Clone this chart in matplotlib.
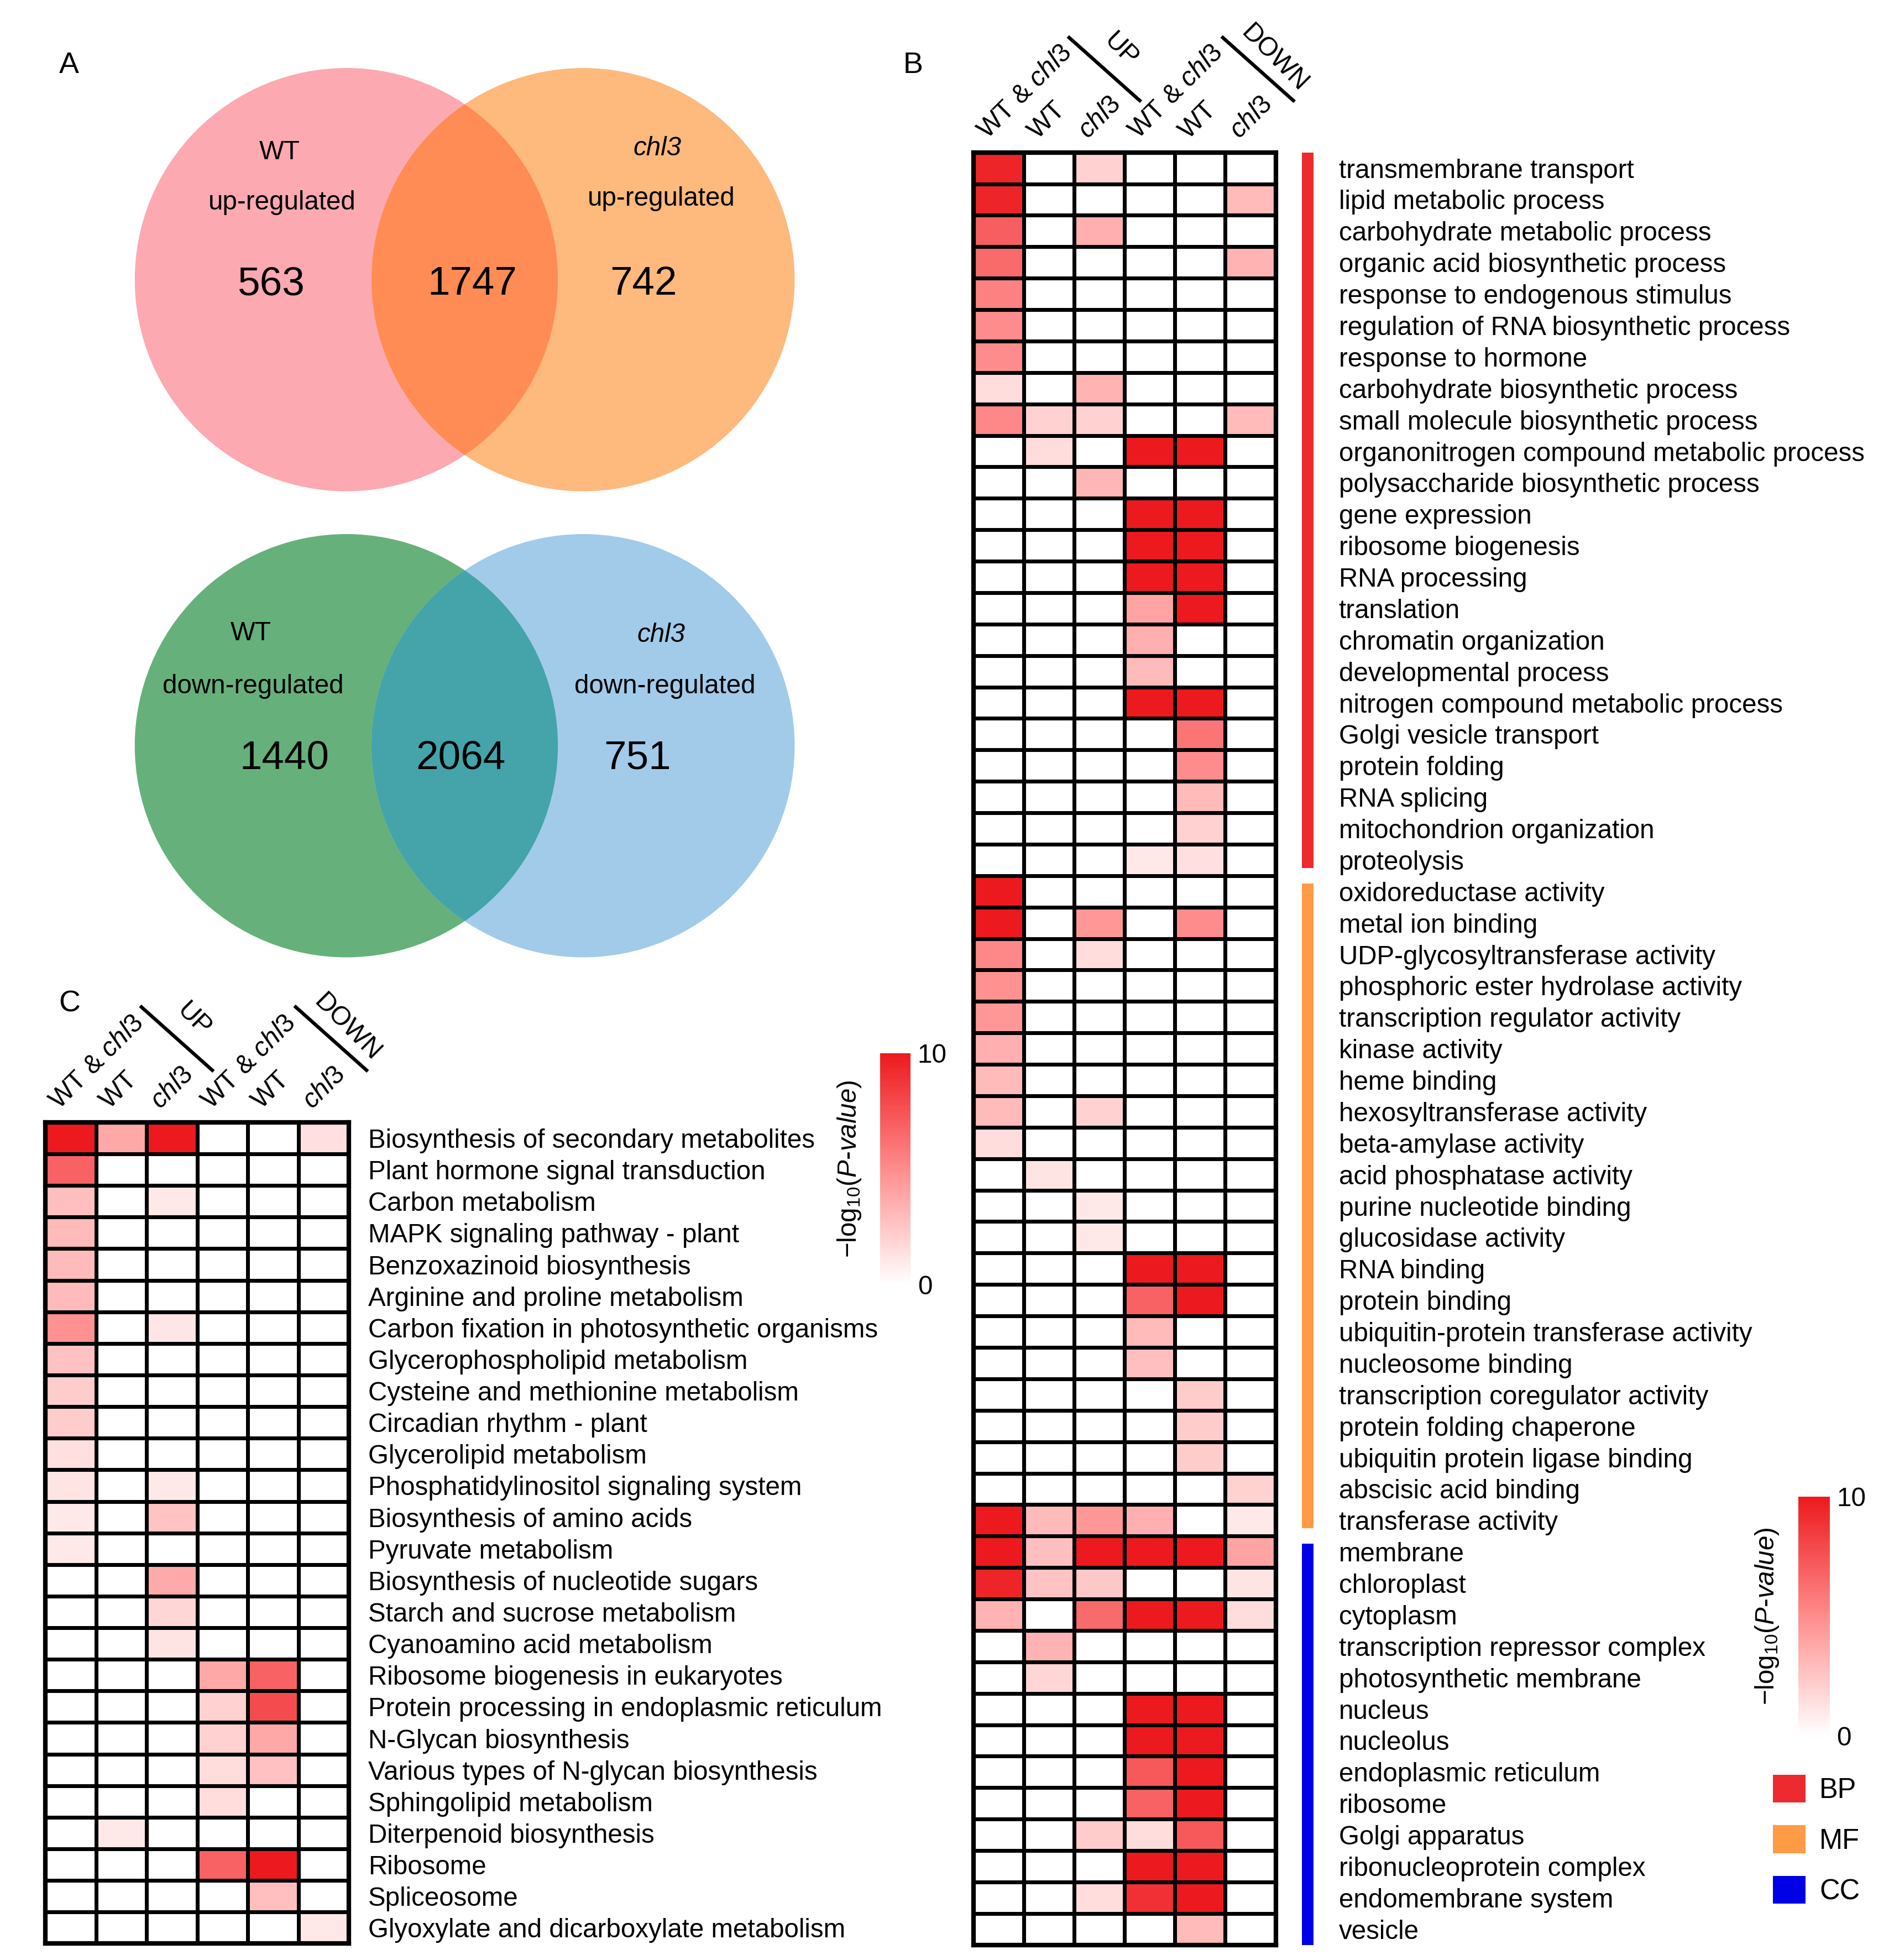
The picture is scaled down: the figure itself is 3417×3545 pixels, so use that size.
import numpy as np
import matplotlib
matplotlib.use("Agg")
import matplotlib.pyplot as plt
from matplotlib.colors import LinearSegmentedColormap, Normalize
from matplotlib.cm import ScalarMappable
from matplotlib.patches import Circle, Patch

plt.rcParams['font.family'] = ['Liberation Sans', 'DejaVu Sans']
plt.rcParams['mathtext.fontset'] = 'custom'
plt.rcParams['mathtext.rm'] = 'Liberation Sans'
plt.rcParams['mathtext.it'] = 'Liberation Sans:italic'
plt.rcParams['mathtext.bf'] = 'Liberation Sans:bold'

# ---- data ----
# Venn counts: [WT only, both, chl3 only]
up_counts = [563, 1747, 742]
down_counts = [1440, 2064, 751]

col_labels = ['WT & chl3', 'WT', 'chl3', 'WT & chl3', 'WT', 'chl3']

bp_terms = [
    'transmembrane transport', 'lipid metabolic process', 'carbohydrate metabolic process',
    'organic acid biosynthetic process', 'response to endogenous stimulus',
    'regulation of RNA biosynthetic process', 'response to hormone',
    'carbohydrate biosynthetic process', 'small molecule biosynthetic process',
    'organonitrogen compound metabolic process', 'polysaccharide biosynthetic process',
    'gene expression', 'ribosome biogenesis', 'RNA processing', 'translation',
    'chromatin organization', 'developmental process', 'nitrogen compound metabolic process',
    'Golgi vesicle transport', 'protein folding', 'RNA splicing',
    'mitochondrion organization', 'proteolysis',
]
bp_values = [
    [9.5, 0, 2, 0, 0, 0], [9.5, 0, 0, 0, 0, 3], [7, 0, 3.5, 0, 0, 0],
    [6.5, 0, 0, 0, 0, 3.3], [5.5, 0, 0, 0, 0, 0], [5, 0, 0, 0, 0, 0],
    [5, 0, 0, 0, 0, 0], [1.5, 0, 3.3, 0, 0, 0], [5.2, 2, 2, 0, 0, 3],
    [0, 1.5, 0, 10, 10, 0], [0, 0, 3.2, 0, 0, 0], [0, 0, 0, 10, 10, 0],
    [0, 0, 0, 10, 10, 0], [0, 0, 0, 10, 10, 0], [0, 0, 0, 4, 10, 0],
    [0, 0, 0, 3.5, 0, 0], [0, 0, 0, 3, 0, 0], [0, 0, 0, 10, 10, 0],
    [0, 0, 0, 0, 6, 0], [0, 0, 0, 0, 5, 0], [0, 0, 0, 0, 3, 0],
    [0, 0, 0, 0, 2, 0], [0, 0, 0, 1, 1.4, 0],
]

mf_terms = [
    'oxidoreductase activity', 'metal ion binding', 'UDP-glycosyltransferase activity',
    'phosphoric ester hydrolase activity', 'transcription regulator activity',
    'kinase activity', 'heme binding', 'hexosyltransferase activity',
    'beta-amylase activity', 'acid phosphatase activity', 'purine nucleotide binding',
    'glucosidase activity', 'RNA binding', 'protein binding',
    'ubiquitin-protein transferase activity', 'nucleosome binding',
    'transcription coregulator activity', 'protein folding chaperone',
    'ubiquitin protein ligase binding', 'abscisic acid binding', 'transferase activity',
]
mf_values = [
    [10, 0, 0, 0, 0, 0], [10, 0, 4.5, 0, 5, 0], [5.2, 0, 1.5, 0, 0, 0],
    [4.8, 0, 0, 0, 0, 0], [4.5, 0, 0, 0, 0, 0], [3.5, 0, 0, 0, 0, 0],
    [3, 0, 0, 0, 0, 0], [3, 0, 2, 0, 0, 0], [1.5, 0, 0, 0, 0, 0],
    [0, 1.2, 0, 0, 0, 0], [0, 0, 1, 0, 0, 0], [0, 0, 1, 0, 0, 0],
    [0, 0, 0, 10, 10, 0], [0, 0, 0, 6.8, 10, 0], [0, 0, 0, 3, 0, 0],
    [0, 0, 0, 2.8, 0, 0], [0, 0, 0, 0, 2.2, 0], [0, 0, 0, 0, 2.2, 0],
    [0, 0, 0, 0, 2.2, 0], [0, 0, 0, 0, 0, 2], [10, 3, 4.5, 3.5, 0, 1],
]

cc_terms = [
    'membrane', 'chloroplast', 'cytoplasm', 'transcription repressor complex',
    'photosynthetic membrane', 'nucleus', 'nucleolus', 'endoplasmic reticulum',
    'ribosome', 'Golgi apparatus', 'ribonucleoprotein complex',
    'endomembrane system', 'vesicle',
]
cc_values = [
    [10, 2.8, 10, 10, 10, 4], [9.5, 2.6, 2.4, 0, 0, 1.2], [3.3, 0, 6.5, 10, 10, 1.5],
    [0, 3.3, 0, 0, 0, 0], [0, 1.8, 0, 0, 0, 0], [0, 0, 0, 10, 10, 0],
    [0, 0, 0, 10, 10, 0], [0, 0, 0, 7.2, 10, 0], [0, 0, 0, 6.8, 10, 0],
    [0, 0, 2.2, 1.5, 7.2, 0], [0, 0, 0, 10, 10, 0], [0, 0, 1.5, 9, 10, 0],
    [0, 0, 0, 0, 3, 0],
]

kegg_terms = [
    'Biosynthesis of secondary metabolites', 'Plant hormone signal transduction',
    'Carbon metabolism', 'MAPK signaling pathway - plant', 'Benzoxazinoid biosynthesis',
    'Arginine and proline metabolism', 'Carbon fixation in photosynthetic organisms',
    'Glycerophospholipid metabolism', 'Cysteine and methionine metabolism',
    'Circadian rhythm - plant', 'Glycerolipid metabolism',
    'Phosphatidylinositol signaling system', 'Biosynthesis of amino acids',
    'Pyruvate metabolism', 'Biosynthesis of nucleotide sugars',
    'Starch and sucrose metabolism', 'Cyanoamino acid metabolism',
    'Ribosome biogenesis in eukaryotes', 'Protein processing in endoplasmic reticulum',
    'N-Glycan biosynthesis', 'Various types of N-glycan biosynthesis',
    'Sphingolipid metabolism', 'Diterpenoid biosynthesis', 'Ribosome', 'Spliceosome',
    'Glyoxylate and dicarboxylate metabolism',
]
kegg_values = [
    [10, 3.8, 10, 0, 0, 1.4], [6.8, 0, 0, 0, 0, 0], [2.8, 0, 1, 0, 0, 0],
    [3, 0, 0, 0, 0, 0], [3, 0, 0, 0, 0, 0], [3, 0, 0, 0, 0, 0],
    [4.8, 0, 1.1, 0, 0, 0], [2.7, 0, 0, 0, 0, 0], [2.2, 0, 0, 0, 0, 0],
    [2.2, 0, 0, 0, 0, 0], [1.4, 0, 0, 0, 0, 0], [1.2, 0, 1, 0, 0, 0],
    [1, 0, 2.6, 0, 0, 0], [1, 0, 0, 0, 0, 0], [0, 0, 3.7, 0, 0, 0],
    [0, 0, 1.8, 0, 0, 0], [0, 0, 1.2, 0, 0, 0], [0, 0, 0, 3.8, 6.8, 0],
    [0, 0, 0, 2, 7.8, 0], [0, 0, 0, 2, 3.8, 0], [0, 0, 0, 1.5, 2.7, 0],
    [0, 0, 0, 1.5, 0, 0], [0, 1, 0, 0, 0, 0], [0, 0, 0, 6.8, 10, 0],
    [0, 0, 0, 0, 2.8, 0], [0, 0, 0, 0, 0, 1],
]

category_names = ['BP', 'MF', 'CC']
category_colors = ['#EC2A30', '#FF9A45', '#0000E6']

# ---- figure, layout in a 1500 x 1556 "page" grid ----
W, H = 1500.0, 1556.0
fig = plt.figure(figsize=(3417 / 228, 3545 / 228), dpi=228)
cmap = LinearSegmentedColormap.from_list('wr', ['#FFFFFF', '#FF8C8C', '#EC1A1E'])
norm = Normalize(0, 10)
LBL = 15


def rect(x0, y0, x1, y1):
    return [x0 / W, 1 - y1 / H, (x1 - x0) / W, (y1 - y0) / H]


page = fig.add_axes([0, 0, 1, 1])
page.set_xlim(0, W)
page.set_ylim(H, 0)
page.axis('off')


def draw_venn(ax, cy, counts, colors, names, kind):
    left = Circle((275, cy), 168, fc=colors[0], ec='none')
    right = Circle((463, cy), 168, fc=colors[1], ec='none')
    ax.add_patch(left)
    ax.add_patch(right)
    both = Circle((463, cy), 168, fc=colors[2], ec='none')
    ax.add_patch(both)
    both.set_clip_path(left)
    ax.text(names[0][0], cy - 101 if kind == 'up' else cy - 89, 'WT', fontsize=LBL,
            ha='center', va='center')
    ax.text(names[0][1], cy - 61 if kind == 'up' else cy - 47, f'{kind}-regulated',
            fontsize=LBL, ha='center', va='center')
    ax.text(names[1][0], cy - 104 if kind == 'up' else cy - 88, 'chl3', fontsize=LBL,
            style='italic', ha='center', va='center')
    ax.text(names[1][1], cy - 64 if kind == 'up' else cy - 47, f'{kind}-regulated',
            fontsize=LBL, ha='center', va='center')
    for x, n in zip(names[2], counts):
        ax.text(x, cy + 4 if kind == 'up' else cy + 10, str(n), fontsize=23,
                ha='center', va='center')


draw_venn(page, 222, up_counts, ['#FCA9B2', '#FEB97C', '#FF8C55'],
          [(222, 224), (522, 525), (215, 375, 511)], 'up')
draw_venn(page, 592, down_counts, ['#66B17B', '#A2CBEA', '#45A3AA'],
          [(199, 201), (525, 528), (226, 366, 506)], 'down')

for letter, x, y in [('A', 55, 52), ('B', 725, 52), ('C', 55, 797)]:
    page.text(x, y, letter, fontsize=17, ha='center', va='center')


def header_text(lbl):
    return lbl.replace('chl3', r'$\mathit{chl3}$')


def draw_heatmap(box, values, labels, pad):
    vals = np.array(values, dtype=float)
    n = vals.shape[0]
    ax = fig.add_axes(rect(*box))
    ax.pcolormesh(vals, cmap=cmap, norm=norm, edgecolors='black', linewidth=2.2)
    ax.set_xlim(0, 6)
    ax.set_ylim(n, 0)
    ax.set_xticks([])
    ax.set_yticks(np.arange(n) + 0.5, labels)
    ax.yaxis.tick_right()
    ax.tick_params(axis='y', length=0, pad=pad, labelsize=LBL)
    for s in ax.spines.values():
        s.set_linewidth(2.6)
    # rotated column headers
    for i, lbl in enumerate(col_labels):
        ax.text(i + 0.27, -0.4, header_text(lbl), rotation=45, rotation_mode='anchor',
                ha='left', va='baseline', fontsize=LBL, clip_on=False)
    for x0 in (1.9, 4.95):
        ax.plot([x0, x0 + 1.4], [-3.65, -1.65], color='black', lw=2.0, clip_on=False)
    ax.text(2.93, -3.25, 'UP', rotation=-45, ha='center', va='center', fontsize=LBL,
            clip_on=False)
    ax.text(5.97, -3.0, 'DOWN', rotation=-45, ha='center', va='center', fontsize=LBL,
            clip_on=False)
    return ax


def draw_colorbar(box):
    cax = fig.add_axes(rect(*box))
    cb = fig.colorbar(ScalarMappable(norm=norm, cmap=cmap), cax=cax, ticks=[0, 10])
    cb.outline.set_visible(False)
    cax.tick_params(length=0, labelsize=LBL, pad=4)
    cb.set_label(r'$-$log$_{10}$($\mathit{P}$-$\mathit{value}$)', fontsize=LBL, labelpad=10)
    cax.yaxis.set_label_position('left')
    return cb


# panel B: GO heatmap
go_values = bp_values + mf_values + cc_values
go_terms = bp_terms + mf_terms + cc_terms
b_top, b_bot = 121, 1544
axb = draw_heatmap((773, b_top, 1013, b_bot), go_values, go_terms, 36)

# category bar beside the GO heatmap
cat_sizes = [len(bp_terms), len(mf_terms), len(cc_terms)]
cat_ax = fig.add_axes(rect(1034, b_top, 1043, b_bot))
cat_ax.set_xlim(0, 1)
cat_ax.set_ylim(sum(cat_sizes), 0)
cat_ax.axis('off')
starts = np.concatenate([[0], np.cumsum(cat_sizes)[:-1]])
for k, (s, size, c) in enumerate(zip(starts, cat_sizes, category_colors)):
    top = s + (0.25 if k > 0 else 0)
    end = s + size - (0.25 if k < len(cat_sizes) - 1 else 0)
    cat_ax.bar(0.5, end - top, bottom=top, width=1, color=c)

draw_colorbar((1428, 1188, 1453, 1378))
fig.legend(handles=[Patch(fc=c, ec='none') for c in category_colors], labels=category_names,
           loc='upper left', bbox_to_anchor=(1408 / W, 1 - 1409 / H), frameon=False,
           fontsize=16, handlelength=1.15, handleheight=1.15, labelspacing=0.75,
           handletextpad=0.5, borderaxespad=0, borderpad=0)

# panel C: KEGG heatmap
axc = draw_heatmap((36, 891, 277, 1543), kegg_values, kegg_terms, 11)
draw_colorbar((699, 836, 723, 1020))

fig.savefig('out.png', dpi=228)
